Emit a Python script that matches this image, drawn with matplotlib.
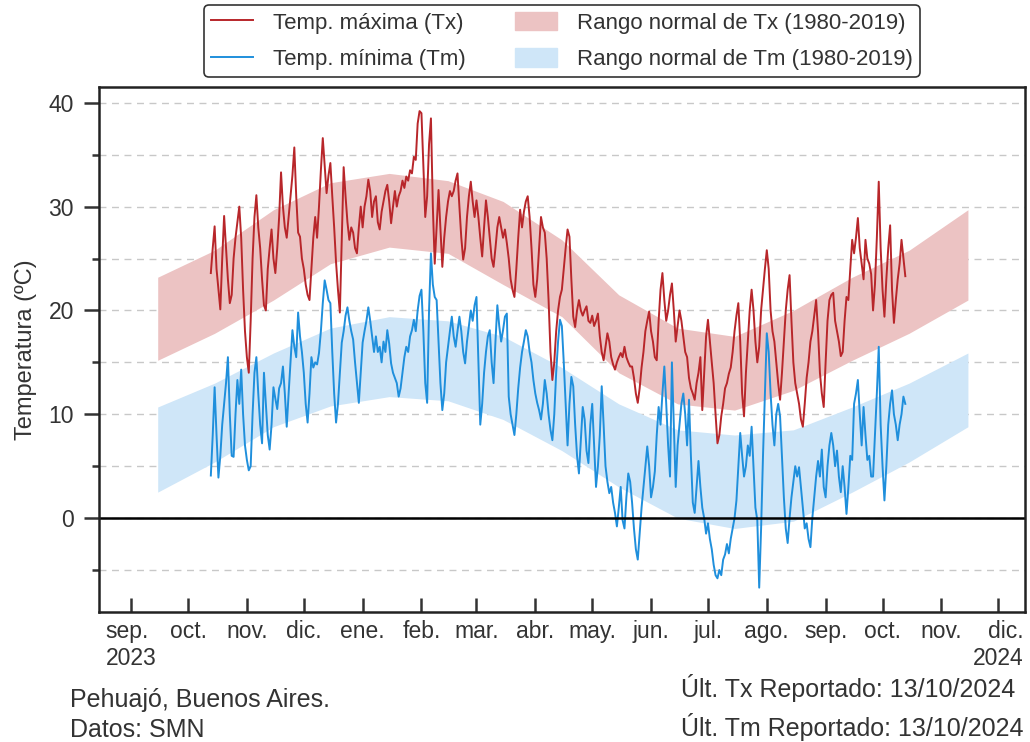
import matplotlib
matplotlib.use('Agg')
import matplotlib.pyplot as plt
import numpy as np
import pandas as pd
from matplotlib.lines import Line2D
from matplotlib.patches import Patch

plt.rcParams['font.family'] = ['Liberation Sans', 'DejaVu Sans']

# daily max temperature, 13/10/2023 - 13/10/2024 (one row per month)
tx_oct23 = [23.6, 26, 28.1, 24, 22, 20.1, 25, 29.1, 26, 23, 20.7, 21.5, 25, 27, 28.5, 30.0, 27, 22, 18]
tx_nov23 = [15.5, 14.0, 19, 25, 29, 31.1, 28, 26, 23, 20.5, 20.0, 24, 26, 27.8, 25, 23.6, 26, 29, 33.3, 30,
            28, 27, 29, 31, 33, 35.7, 31, 27.5, 27.1, 25]
tx_dec23 = [24, 22.5, 21.5, 21.0, 24, 27, 29.0, 27, 30, 33.5, 36.6, 34, 31.3, 33, 34.2, 31, 28, 24.6, 22, 19.8,
            27, 33.8, 31, 28.5, 26.8, 28, 27.5, 26, 25.5, 28, 30]
tx_jan24 = [28, 30, 31, 32.6, 31.5, 29, 30.5, 31, 28.5, 27.8, 29.5, 30.5, 31.5, 32.1, 30.5, 28.4, 30, 31.5, 30, 31,
            31.5, 32.5, 31.8, 32.9, 32.5, 33.5, 33.2, 34.8, 34.5, 38.0, 39.2]
tx_feb24 = [39.0, 34, 29.0, 31, 36, 38.5, 30, 24.5, 28, 31.6, 28, 24.2, 27, 29, 30.5, 31.5, 31, 31.5, 32.5, 33.2,
            30, 27, 24.9, 26, 29, 31, 32.4, 30.5, 29]
tx_mar24 = [30.6, 29, 27, 25.2, 28, 30.6, 29, 27, 25, 24.2, 26, 28, 29, 28, 27, 27.8, 26.5, 25, 23, 22,
            21.3, 24, 27, 29.7, 28, 29.5, 30.5, 31.0, 29, 26, 22.5]
tx_apr24 = [21.3, 23, 26, 29.0, 28, 27.5, 25, 21, 16, 13.3, 15, 18, 20, 21.3, 22, 24, 26, 27.8, 27.1, 23,
            19.4, 18.4, 20, 21, 20, 19.5, 20, 20.4, 19, 18.8]
tx_may24 = [19.5, 18.5, 19, 19.7, 17.5, 16, 15.2, 16.5, 17.8, 17, 15.5, 14.8, 14.3, 15, 15.5, 15.9, 15.5, 16.5,
            15.5, 15, 14.6, 14.6, 13.5, 12, 11.1, 12.5, 14.5, 16, 18, 19, 19.9]
tx_jun24 = [18, 17, 15.5, 15.2, 19, 22, 23.6, 21, 19, 20, 21.5, 22.6, 20, 17, 18.5, 20, 19, 17.5, 16, 15.5,
            13.5, 12.5, 12, 11.4, 13, 14, 15.5, 10.4, 14, 17.5]
tx_jul24 = [19.1, 17, 15, 13, 10, 7.2, 8, 9.8, 11, 12.5, 13, 13.9, 14.5, 16, 18, 19.5, 20.7, 17, 12, 9.8,
            14, 17, 20, 22, 20, 17, 15, 16.5, 20, 22, 24]
tx_aug24 = [25.8, 24, 20, 18, 17, 15, 13, 11.4, 14, 17, 20, 22, 23.4, 19, 15, 13, 12, 11, 9.5, 8.8,
            11, 13.5, 15, 17, 18, 19.5, 21, 18, 14, 12, 10.7]
tx_sep24 = [15, 19, 21, 21.5, 21.7, 19, 18, 17, 15.6, 16, 19, 21.3, 21, 24, 26.8, 25.5, 27, 28.9, 26, 24.5,
            23, 26.8, 25, 24.5, 23.5, 20.0, 22.5, 27, 32.4, 26]
tx_oct24 = [22, 19.4, 23, 26, 28.2, 22, 18.8, 21, 23, 24.5, 26.8, 25, 23.3]

# daily min temperature, same days
tm_oct23 = [4.1, 8, 12.6, 8, 3.9, 6, 9, 11, 13, 15.5, 10, 6, 5.9, 10, 13.3, 11, 14.3, 10, 7]
tm_nov23 = [5.6, 4.6, 5, 10, 14, 15.5, 12, 9, 7.2, 14.0, 11, 8, 6.6, 9, 12.6, 11.5, 10.5, 12.5, 13, 14.6,
            12, 8.8, 12, 15, 18.1, 16.5, 15.5, 19.8, 17.5, 16]
tm_dec23 = [14, 11, 9.2, 12, 15.5, 14.5, 15, 14.8, 15.9, 18, 20.7, 22.9, 22, 21, 20.7, 16, 12, 9.2, 11, 14,
            16.9, 18, 19.5, 20.3, 19, 18, 17.2, 15, 13, 11.1, 14]
tm_jan24 = [16.9, 18, 19, 20.3, 19, 17.5, 16, 17.5, 16, 16.5, 15, 17, 16, 18.1, 16.8, 14.9, 14, 13.5, 13, 11.7,
            12.5, 14, 15.5, 16.5, 16, 17.5, 18.1, 19.1, 18, 20, 21.4]
tm_feb24 = [22.0, 18, 13, 11.1, 20, 25.5, 22.5, 21.3, 21, 17, 13, 10.4, 12, 15, 16.5, 18, 19.4, 17.5, 16.5, 18,
            19.4, 18, 16, 14.9, 17, 18.5, 20, 19, 20.5]
tm_mar24 = [21.3, 15, 9.0, 11, 14, 16, 17.5, 18.1, 15, 13.0, 17, 20.5, 18.5, 17, 18.1, 19.4, 19.7, 11.7, 10, 9,
            8.0, 10, 12.5, 14.5, 16, 17, 18.1, 17.5, 16, 15, 13.3]
tm_apr24 = [12, 11.1, 10.4, 9.5, 11, 13.3, 12, 10, 8.5, 7.5, 10, 14, 17, 19.1, 18.5, 15, 11, 7, 11, 13.6,
            12.7, 9, 6, 4.3, 7.5, 10.7, 9.5, 6.5, 5.3, 9]
tm_may24 = [11, 6.9, 3.0, 5, 8, 12.7, 9, 5, 3.5, 2.4, 3, 1.5, 0.5, -0.8, 1, 3, -0.2, -1, 2, 4.3,
            3.5, 1.5, -1, -3, -4.0, -1.5, 1, 3, 5, 6.9, 5]
tm_jun24 = [2, 3, 4.5, 8, 10.7, 9, 12, 14.6, 11, 7, 4, 15.0, 9, 3, 7, 9, 11, 12.0, 10, 7,
            11.4, 6, 1.5, 0.5, 3, 5.5, 3, 1, 0, -1.5]
tm_jul24 = [-0.5, -2, -3, -4.5, -5.5, -5.8, -5, -5.5, -4, -3.5, -2.5, -3.4, -2, -1, 0, 1.7, 5, 8.2, 6, 4,
            5, 7, 6, 8.8, 5, 1, -0.2, -6.7, -1, 6, 12]
tm_aug24 = [17.8, 16, 12, 9, 7, 10, 11, 9.8, 6, 2, -1, -2.4, 0, 2, 3.5, 5, 4, 4.9, 3, 1,
            -1, -0.5, -2, -2.8, 0, 2, 4, 5.5, 4, 6.6, 3]
tm_sep24 = [2, 5, 7, 8.2, 7, 5, 6.5, 4, 2.5, 5, 3, 0.4, 3, 6, 5.6, 11, 12, 13.3, 10, 7,
            10.7, 8, 5.6, 6, 4, 4.0, 8, 12, 16.5, 9]
tm_oct24 = [5, 1.7, 5, 9, 11, 12.3, 10, 9, 7.5, 9, 10, 11.7, 11]

# normal range 1980-2019, mid-month values from 15/09/2023 to 15/11/2024
clim_months = pd.date_range('2023-09-01', '2024-11-01', freq='MS')
tx_lo = [15.2, 17.8, 21.0, 24.5, 26.1, 25.5, 22.5, 19.4, 14.0, 11.0, 10.4, 12.3, 15.2, 17.8, 21.0]
tx_hi = [23.2, 25.8, 29.7, 32.3, 33.2, 32.5, 30.5, 26.8, 21.5, 18.3, 17.5, 20.0, 23.2, 25.8, 29.7]
tm_lo = [2.5, 5.4, 8.8, 10.8, 11.7, 11.3, 9.5, 6.5, 3.0, 0.0, -1.0, -0.3, 2.5, 5.4, 8.8]
tm_hi = [10.7, 13.0, 15.9, 18.3, 19.4, 19.0, 17.5, 14.5, 11.0, 8.5, 8.0, 8.5, 10.7, 13.0, 15.9]

month_labels = ['sep.\n2023', 'oct.', 'nov.', 'dic.', 'ene.', 'feb.', 'mar.', 'abr.', 'may.', 'jun.',
                'jul.', 'ago.', 'sep.', 'oct.', 'nov.', 'dic.\n2024']

tx = tx_oct23 + tx_nov23 + tx_dec23 + tx_jan24 + tx_feb24 + tx_mar24 + tx_apr24 + tx_may24 + \
     tx_jun24 + tx_jul24 + tx_aug24 + tx_sep24 + tx_oct24
tm = tm_oct23 + tm_nov23 + tm_dec23 + tm_jan24 + tm_feb24 + tm_mar24 + tm_apr24 + tm_may24 + \
     tm_jun24 + tm_jul24 + tm_aug24 + tm_sep24 + tm_oct24
dates = pd.date_range('2023-10-13', periods=len(tx), freq='D')
clim_dates = clim_months + pd.Timedelta(days=14)

c_tx = '#b8262a'
c_tm = '#1f8fdc'
c_txband = '#ecc3c3'
c_tmband = '#cfe6f8'
c_txt = '#333333'

fig = plt.figure(figsize=(10.3, 7.42), dpi=100)
ax = fig.add_axes([0.096, 0.175, 0.899, 0.708])

ax.fill_between(clim_dates, tx_lo, tx_hi, color=c_txband, lw=0)
ax.fill_between(clim_dates, tm_lo, tm_hi, color=c_tmband, lw=0)
ax.plot(dates, tx, color=c_tx, lw=1.4)
ax.plot(dates, tm, color=c_tm, lw=1.4)
ax.axhline(0, color='black', lw=1.8)

ax.set_xlim(pd.Timestamp('2023-08-15'), pd.Timestamp('2024-12-15'))
ax.set_ylim(-9.06, 41.54)

ax.set_xticks(pd.date_range('2023-09-01', '2024-12-01', freq='MS'))
ax.set_xticklabels(month_labels)
labs = ax.get_xticklabels()
labs[0].set_multialignment('left')
labs[-1].set_multialignment('right')

ax.set_yticks([0, 10, 20, 30, 40])
ax.set_yticks([-5, 5, 15, 25, 35], minor=True)
ax.grid(axis='y', which='both', ls=(0, (5, 4)), color='#c8c8c8', lw=1.0)
ax.set_axisbelow(True)

ax.tick_params(axis='y', which='major', direction='out', length=11, width=1.8, pad=7,
               labelsize=16.5, labelcolor=c_txt, color=c_txt)
ax.tick_params(axis='y', which='minor', direction='out', length=5, width=1.8, color=c_txt)
ax.tick_params(axis='x', which='major', direction='in', length=10, width=1.8, pad=6,
               labelsize=16.5, labelcolor=c_txt, color=c_txt)
for s in ax.spines.values():
    s.set_linewidth(1.8)
    s.set_color('#222222')

ax.set_ylabel('Temperatura (ºC)', fontsize=17, color=c_txt, labelpad=8)

handles = [Line2D([], [], color=c_tx, lw=1.4), Line2D([], [], color=c_tm, lw=1.4),
           Patch(color=c_txband), Patch(color=c_tmband)]
names = ['Temp. máxima (Tx)', 'Temp. mínima (Tm)',
         'Rango normal de Tx (1980-2019)', 'Rango normal de Tm (1980-2019)']
leg = ax.legend(handles, names, ncol=2, loc='lower center', bbox_to_anchor=(0.5, 0.998),
                fontsize=16, frameon=True, fancybox=True, edgecolor='black',
                handlelength=1.9, handleheight=0.9, columnspacing=2.2, labelspacing=0.65,
                borderpad=0.3, handletextpad=0.9)
leg.get_frame().set_linewidth(1.2)
for t in leg.get_texts():
    t.set_color(c_txt)

fig.text(0.068, 0.0, 'Pehuajó, Buenos Aires.\nDatos: SMN', fontsize=18, color=c_txt,
         ha='left', va='bottom', linespacing=1.3)
fig.text(0.994, 0.002, 'Últ. Tx Reportado: 13/10/2024\nÚlt. Tm Reportado: 13/10/2024', fontsize=18,
         color=c_txt, ha='right', va='bottom', linespacing=1.45, multialignment='left')

fig.savefig('out.png', dpi=100)
